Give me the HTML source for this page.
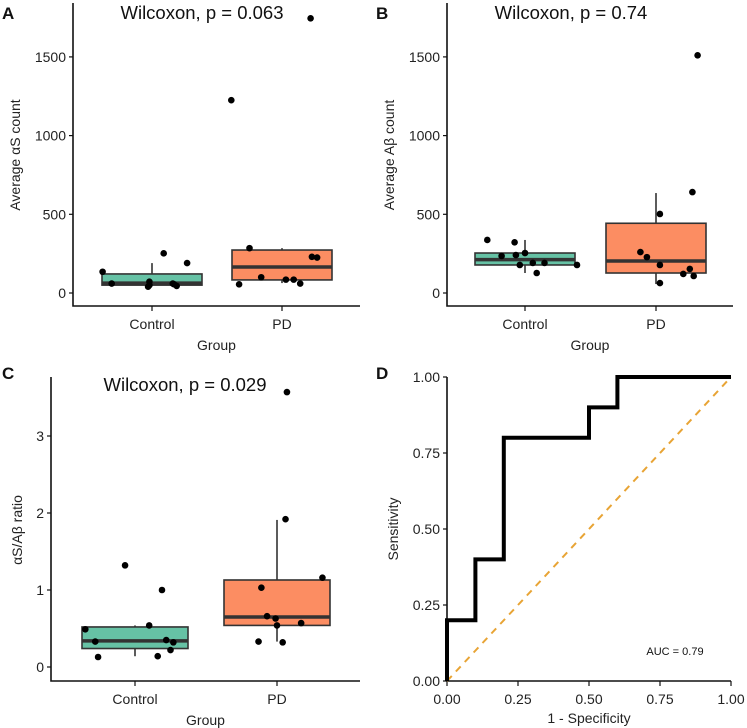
<!DOCTYPE html>
<html><head><meta charset="utf-8"><style>
html,body{margin:0;padding:0;background:#fff;}
svg{display:block;font-family:"Liberation Sans",Arial,sans-serif;}
</style></head><body>
<svg id="fig" width="747" height="728" viewBox="0 0 747 728"></svg>
<script>
// Panel A data (alpha-synuclein counts)
const groups = ["Control","PD"];
const aCtrlVals = [135,60,40,72,252,60,45,190,55,50];
const aCtrlJit = [-0.38,-0.31,-0.03,-0.02,0.09,0.16,0.19,0.27,0.17,-0.02];
const aPdVals = [1225,1745,285,55,100,85,85,60,230,225];
const aPdJit = [-0.39,0.22,-0.25,-0.33,-0.16,0.03,0.09,0.14,0.23,0.27];
const aCtrlBox = [50,50,63,121,190];
const aPdBox = [63,83,165,273,285];
const aTicks = [0,500,1000,1500];
// Panel B data (amyloid-beta counts)
const bCtrlVals = [337,235,322,241,178,254,191,127,191,178];
const bCtrlJit = [-0.29,-0.18,-0.08,-0.07,-0.04,0,0.06,0.09,0.15,0.40];
const bPdVals = [1510,641,502,260,228,178,63,121,153,108];
const bPdJit = [0.32,0.28,0.03,-0.12,-0.07,0.03,0.03,0.21,0.26,0.29];
const bCtrlBox = [127,178,212,254,337];
const bPdBox = [57,127,203,443,635];
const bTicks = [0,500,1000,1500];
// Panel C data (ratio)
const cCtrlVals = [0.49,0.33,0.13,1.32,0.54,0.14,1.0,0.35,0.22,0.32];
const cCtrlJit = [-0.35,-0.28,-0.26,-0.07,0.1,0.16,0.19,0.22,0.25,0.27];
const cPdVals = [3.57,1.92,1.03,1.16,0.66,0.63,0.54,0.57,0.33,0.32];
const cPdJit = [0.07,0.06,-0.11,0.32,-0.07,-0.01,0,0.17,-0.13,0.04];
const cCtrlBox = [0.14,0.24,0.34,0.52,0.54];
const cPdBox = [0.33,0.54,0.65,1.13,1.91];
const cTicks = [0,1,2,3];
// Panel D ROC
const rocFpr = [0,0,0.1,0.1,0.2,0.2,0.5,0.5,0.6,0.6,1.0];
const rocTpr = [0,0.2,0.2,0.4,0.4,0.8,0.8,0.9,0.9,1.0,1.0];
const rocTicks = [0,0.25,0.5,0.75,1];
const rocTickLabels = ["0.00","0.25","0.50","0.75","1.00"];

const NS="http://www.w3.org/2000/svg";
const svg=document.getElementById('fig');
function mk(tag,attrs,parent,text){const e=document.createElementNS(NS,tag);for(const k in attrs)e.setAttribute(k,attrs[k]);if(text!==undefined)e.textContent=text;(parent||svg).appendChild(e);return e;}

function boxPanel(o){
  const g=mk('g',{});
  
  
  const y=v=>o.y0-(v-o.vmin)*o.scale;
  const xc=i=>o.xcat[i];
  const ax=mk('path',{d:`M${o.axX},${o.top}V${o.axY}H${o.right}`,stroke:'#111',"stroke-width":1.6,fill:'none'},g);
  
  
  o.ticks.forEach(t=>{
    mk('line',{x1:o.axX-4,x2:o.axX,y1:y(t),y2:y(t),stroke:'#111',"stroke-width":1.2},g);
    const tl=mk('text',{x:o.axX-7,y:y(t)+5,"text-anchor":'end',"font-size":14,fill:'#222'},g,String(t));
    
    
  });
  groups.forEach((c,i)=>{
    mk('line',{x1:xc(i),x2:xc(i),y1:o.axY,y2:o.axY+5,stroke:'#111',"stroke-width":1.2},g);
    const tl=mk('text',{x:xc(i),y:o.axY+23,"text-anchor":'middle',"font-size":14,fill:'#222'},g,c);
    
    
  });
  const xt=mk('text',{x:(o.axX+o.right)/2,y:o.axY+44,"text-anchor":'middle',"font-size":14,fill:'#222'},g,'Group');
  
  
  const yt=mk('text',{x:0,y:0,transform:`translate(${o.ytitleX},${o.ytitleY}) rotate(-90)`,"text-anchor":'middle',"font-size":14,fill:'#222'},g,o.ytitle);
  
  
  const tt=mk('text',{x:o.titleX,y:o.titleY,"text-anchor":'middle',"font-size":18.5,fill:'#111'},g,o.title);
  
  
  const pl=mk('text',{x:o.letterX,y:o.letterY,"font-size":17,"font-weight":'bold',fill:'#111'},g,o.letter);
  
  
  const boxes=[o.ctrlBox,o.pdBox],cols=['#66c2a5','#fc8d62'];
  boxes.forEach((b,i)=>{
    const x=xc(i),hw=o.hw;
    mk('line',{x1:x,x2:x,y1:y(b[0]),y2:y(b[4]),stroke:'#333',"stroke-width":1.6},g);
    const r=mk('rect',{x:x-hw,y:y(b[3]),width:2*hw,height:y(b[1])-y(b[3]),fill:cols[i],stroke:'#333',"stroke-width":1.6},g);
    
    
    mk('line',{x1:x-hw,x2:x+hw,y1:y(b[2]),y2:y(b[2]),stroke:'#333',"stroke-width":3.5},g);
  });
  [[o.ctrlVals,o.ctrlJit],[o.pdVals,o.pdJit]].forEach((s,i)=>{
    s[0].forEach((v,k)=>{
      const c=mk('circle',{cx:xc(i)+s[1][k]*o.catW,cy:y(v),r:3.3,fill:'#000'},g);
      
      
    });
  });
}
boxPanel({name:'panel-a',letter:'A',letterX:2,letterY:19,title:'Wilcoxon, p = 0.063',titleX:202,titleY:19,
  axX:73,axY:306,top:3,right:360,y0:293,vmin:0,scale:78.7/500,xcat:[152,282],catW:130,hw:50,ticks:aTicks,
  ytitle:'Average  αS count',ytitleX:20,ytitleY:155,ctrlVals:aCtrlVals,ctrlJit:aCtrlJit,pdVals:aPdVals,pdJit:aPdJit,ctrlBox:aCtrlBox,pdBox:aPdBox});
boxPanel({name:'panel-b',letter:'B',letterX:376,letterY:19,title:'Wilcoxon, p = 0.74',titleX:571,titleY:19,
  axX:447,axY:306,top:3,right:733,y0:293,vmin:0,scale:78.7/500,xcat:[525,656],catW:130,hw:50,ticks:bTicks,
  ytitle:'Average Aβ count',ytitleX:394,ytitleY:155,ctrlVals:bCtrlVals,ctrlJit:bCtrlJit,pdVals:bPdVals,pdJit:bPdJit,ctrlBox:bCtrlBox,pdBox:bPdBox});
boxPanel({name:'panel-c',letter:'C',letterX:2,letterY:379,title:'Wilcoxon, p = 0.029',titleX:185,titleY:391,
  axX:51,axY:681,top:377,right:360,y0:667,vmin:0,scale:77,xcat:[135,277],catW:142,hw:53,ticks:cTicks,
  ytitle:'αS/Aβ ratio',ytitleX:22,ytitleY:530,ctrlVals:cCtrlVals,ctrlJit:cCtrlJit,pdVals:cPdVals,pdJit:cPdJit,ctrlBox:cCtrlBox,pdBox:cPdBox});

// Panel D
(function(){
  const g=mk('g',{});
  
  
  const X0=447,X1=731,Y0=681,Y1=377;
  const x=v=>X0+v*(X1-X0), y=v=>Y0-v*(Y0-Y1);
  const ax=mk('path',{d:`M${X0},${Y1}V${Y0}H${X1}`,stroke:'#111',"stroke-width":1.6,fill:'none'},g);
  
  
  rocTicks.forEach((t,i)=>{
    mk('line',{x1:X0-4,x2:X0,y1:y(t),y2:y(t),stroke:'#111',"stroke-width":1.2},g);
    const a=mk('text',{x:X0-7,y:y(t)+5,"text-anchor":'end',"font-size":14,fill:'#222'},g,rocTickLabels[i]);
    
    
    mk('line',{x1:x(t),x2:x(t),y1:Y0,y2:Y0+5,stroke:'#111',"stroke-width":1.2},g);
    const b=mk('text',{x:x(t),y:Y0+23,"text-anchor":'middle',"font-size":14,fill:'#222'},g,rocTickLabels[i]);
    
    
  });
  const dl=mk('line',{x1:x(0),y1:y(0),x2:x(1),y2:y(1),stroke:'#e8a435',"stroke-width":2,"stroke-dasharray":'7,6'},g);
  
  
  const d=rocFpr.map((f,i)=>(i?'L':'M')+x(f)+','+y(rocTpr[i])).join('');
  const p=mk('path',{d:d,stroke:'#000',"stroke-width":4,fill:'none'},g);
  
  
  const au=mk('text',{x:675,y:655,"text-anchor":'middle',"font-size":11,fill:'#111'},g,'AUC = 0.79');
  
  
  const xt=mk('text',{x:589,y:723,"text-anchor":'middle',"font-size":14,fill:'#222'},g,'1 - Specificity');
  
  
  const yt=mk('text',{x:0,y:0,transform:'translate(398,529) rotate(-90)',"text-anchor":'middle',"font-size":14,fill:'#222'},g,'Sensitivity');
  
  
  const pl=mk('text',{x:376,y:379,"font-size":17,"font-weight":'bold',fill:'#111'},g,'D');
  
  
})();
</script>
</body></html>
